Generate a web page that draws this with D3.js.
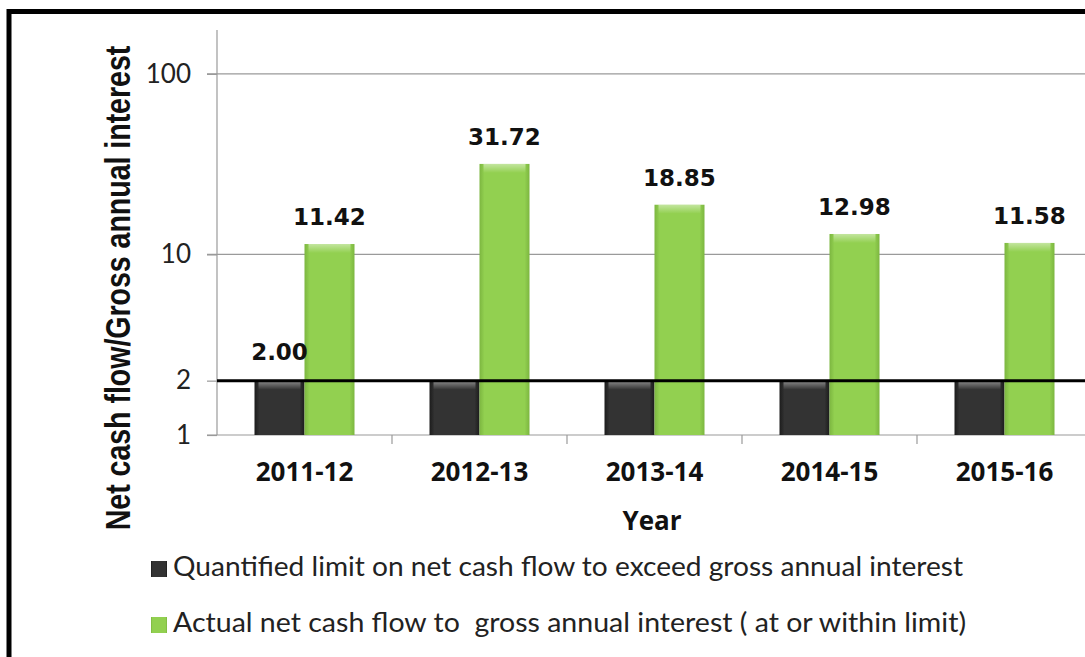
<!DOCTYPE html>
<html>
<head>
<meta charset="utf-8">
<script src="https://cdn.jsdelivr.net/npm/d3@7"></script>
<style>
  html, body { margin: 0; padding: 0; background: #fff; }
  svg { display: block; }
</style>
</head>
<body>
<svg id="chart" width="1085" height="657"></svg>
<script>
// Ratio of net cash flow to gross annual interest, by financial year
const years = ["2011-12", "2012-13", "2013-14", "2014-15", "2015-16"];
const limitValues = [2, 2, 2, 2, 2];
const actualValues = [11.42, 31.72, 18.85, 12.98, 11.58];
const yTickValues = [1, 2, 10, 100];
const axisTop = 175;
const limitLabel = "2.00";
const seriesNames = [
  "Quantified limit on net cash flow to exceed gross annual interest",
  "Actual net cash flow to  gross annual interest ( at or within limit)"
];

const svg = d3.select("#chart");
const W = 1085, H = 657;
const plot = { left: 217, top: 30, bottom: 435, band: 175 };

const x = d3.scaleBand()
  .domain(years)
  .range([plot.left, plot.left + plot.band * years.length])
  .paddingInner(0).paddingOuter(0);
const barW = 50;

const y = d3.scaleLog()
  .domain([1, axisTop])
  .range([plot.bottom, plot.top]);

// gradients for the bevelled bars
const defs = svg.append("defs");
function sideGrad(id, edge, mid) {
  const g = defs.append("linearGradient").attr("id", id)
    .attr("x1", "0").attr("x2", "1").attr("y1", "0").attr("y2", "0");
  g.append("stop").attr("offset", "0").attr("stop-color", edge);
  g.append("stop").attr("offset", "0.1").attr("stop-color", mid);
  g.append("stop").attr("offset", "0.9").attr("stop-color", mid);
  g.append("stop").attr("offset", "1").attr("stop-color", edge);
}
sideGrad("gGreen", "#7cb640", "#92d050");
sideGrad("gDark", "#1c1c1c", "#333333");
const topG = defs.append("linearGradient").attr("id", "gTop")
  .attr("x1", "0").attr("x2", "0").attr("y1", "0").attr("y2", "1");
topG.append("stop").attr("offset", "0").attr("stop-color", "#fff").attr("stop-opacity", 0.45);
topG.append("stop").attr("offset", "1").attr("stop-color", "#fff").attr("stop-opacity", 0);

// outer frame
svg.append("rect")
  .attr("x", 9).attr("y", 11.5)
  .attr("width", W + 20).attr("height", H + 20)
  .attr("fill", "none").attr("stroke", "#000").attr("stroke-width", 5);

// gridlines at the major decades
const grid = svg.append("g");
grid.selectAll("line")
  .data([10, 100])
  .join("line")
  .attr("x1", plot.left - 10).attr("x2", W)
  .attr("y1", d => y(d)).attr("y2", d => y(d))
  .attr("stroke", "#9a9a9a").attr("stroke-width", 1.2);

// y axis
const yAxis = d3.axisLeft(y)
  .tickValues(yTickValues)
  .tickFormat(d3.format("d"))
  .tickSize(10)
  .tickPadding(16);
const gy = svg.append("g")
  .attr("transform", `translate(${plot.left},0)`)
  .call(yAxis);
gy.select(".domain").attr("stroke", "#9a9a9a").attr("stroke-width", 1.2)
  .attr("d", `M0,${plot.top}V${plot.bottom}`);
gy.selectAll(".tick line").attr("stroke", "#9a9a9a").attr("stroke-width", 1.2);
gy.selectAll(".tick text")
  .attr("font-family", "Lato, 'Open Sans', sans-serif")
  .attr("font-size", 26).attr("fill", "#222");

// x axis
const xAxis = d3.axisBottom(x).tickSize(0).tickPadding(28);
const gx = svg.append("g")
  .attr("transform", `translate(0,${plot.bottom})`)
  .call(xAxis);
gx.select(".domain").attr("stroke", "#9a9a9a").attr("stroke-width", 1.2)
  .attr("d", `M${plot.left - 10},0H${W}`);
gx.selectAll(".tick text")
  .attr("font-family", "'Open Sans', sans-serif")
  .attr("font-weight", "bold")
  .attr("font-size", 26).attr("fill", "#111");
// category separators
svg.append("g").selectAll("line")
  .data(years.slice(1))
  .join("line")
  .attr("x1", d => x(d)).attr("x2", d => x(d))
  .attr("y1", plot.bottom).attr("y2", plot.bottom + 9)
  .attr("stroke", "#9a9a9a").attr("stroke-width", 1.2);

// bars
const pad = (x.bandwidth() - 2 * barW) / 2;
function drawBars(values, fillId, offset, cls) {
  const g = svg.append("g").attr("class", cls);
  const grp = g.selectAll("g").data(values.map((v, i) => ({ v, cat: years[i] })))
    .join("g");
  grp.append("rect")
    .attr("x", d => x(d.cat) + pad + offset)
    .attr("y", d => y(d.v))
    .attr("width", barW)
    .attr("height", d => y(1) - y(d.v))
    .attr("fill", `url(#${fillId})`);
  grp.append("rect")
    .attr("x", d => x(d.cat) + pad + offset + 4)
    .attr("y", d => y(d.v))
    .attr("width", barW - 8)
    .attr("height", 9)
    .attr("fill", "url(#gTop)");
}
drawBars(limitValues, "gDark", 0, "limit");
drawBars(actualValues, "gGreen", barW, "actual");

// limit line at 2
svg.append("line")
  .attr("x1", plot.left).attr("x2", W)
  .attr("y1", y(limitValues[0])).attr("y2", y(limitValues[0]))
  .attr("stroke", "#000").attr("stroke-width", 3);

// value labels
const labelFont = "'DejaVu Sans', sans-serif";
svg.append("g").selectAll("text")
  .data(actualValues.map((v, i) => ({ v, cat: years[i] })))
  .join("text")
  .attr("x", d => x(d.cat) + pad + barW * 1.5)
  .attr("y", d => y(d.v) - 19)
  .attr("text-anchor", "middle")
  .attr("font-family", labelFont).attr("font-weight", "bold")
  .attr("font-size", 23).attr("fill", "#111")
  .text(d => d3.format(".2f")(d.v));
svg.append("text")
  .attr("x", x(years[0]) + pad + barW / 2)
  .attr("y", y(limitValues[0]) - 21)
  .attr("text-anchor", "middle")
  .attr("font-family", labelFont).attr("font-weight", "bold")
  .attr("font-size", 23).attr("fill", "#111")
  .text(limitLabel);

// axis titles
svg.append("text")
  .attr("transform", `translate(130,288) scale(1.25,1) rotate(-90)`)
  .attr("text-anchor", "middle")
  .attr("font-family", "'Liberation Sans', Arial, sans-serif").attr("font-weight", "bold")
  .attr("font-size", 28.5).attr("fill", "#111")
  .text("Net cash flow/Gross annual interest");
svg.append("text")
  .attr("x", 652).attr("y", 530)
  .attr("text-anchor", "middle")
  .attr("font-family", "'Open Sans', sans-serif").attr("font-weight", "bold")
  .attr("font-size", 26).attr("fill", "#111")
  .text("Year");

// legend
const legend = svg.append("g");
const legendFills = ["gDark", "gGreen"];
const legendWidths = [790, 793];
const li = legend.selectAll("g").data(seriesNames).join("g")
  .attr("transform", (d, i) => `translate(151,${561 + i * 56})`);
li.append("rect").attr("width", 16).attr("height", 16)
  .attr("fill", (d, i) => `url(#${legendFills[i]})`);
li.append("text")
  .attr("x", 22).attr("y", 15)
  .attr("font-family", "Lato, 'Open Sans', sans-serif")
  .attr("font-size", 27).attr("fill", "#222")
  .attr("textLength", (d, i) => legendWidths[i])
  .attr("lengthAdjust", "spacingAndGlyphs")
  .style("white-space", "pre")
  .text(d => d);
</script>
</body>
</html>
